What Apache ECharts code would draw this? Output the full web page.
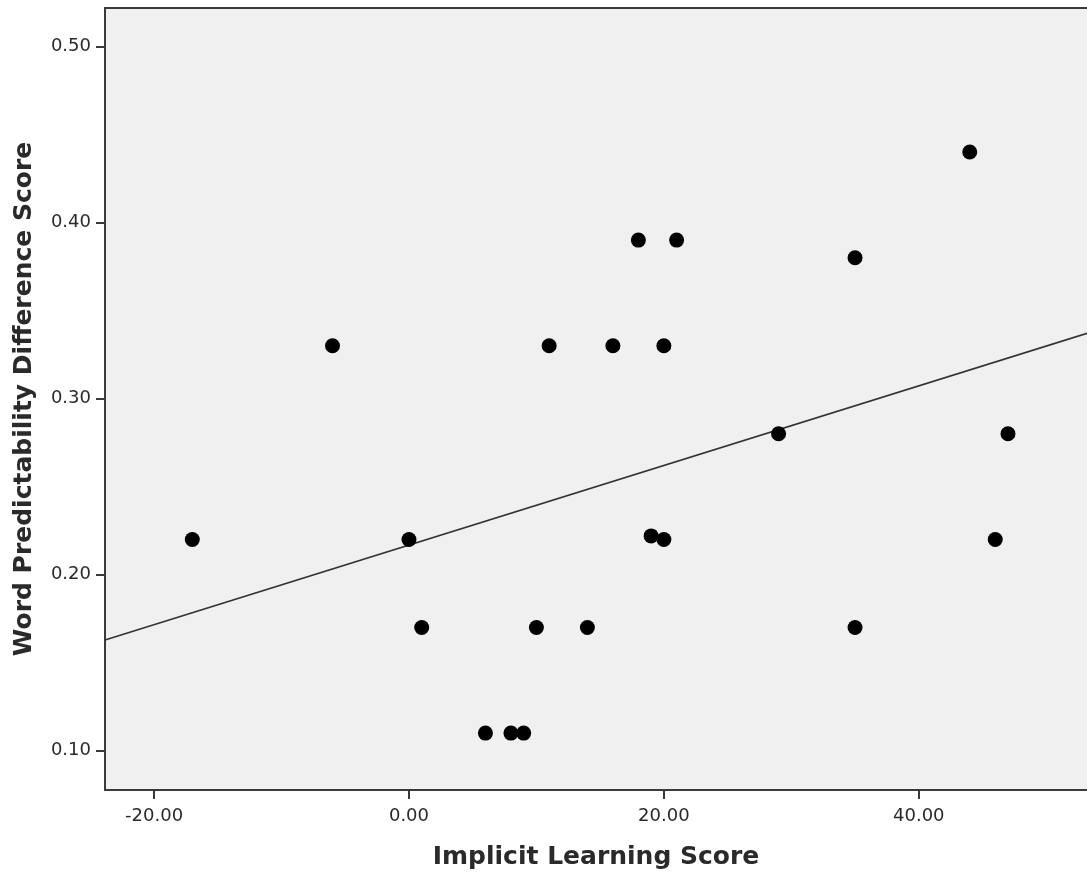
<!DOCTYPE html>
<html>
<head>
<meta charset="utf-8">
<script src="https://cdn.jsdelivr.net/npm/echarts@6/dist/echarts.min.js"></script>
<style>
html,body{margin:0;padding:0;background:#fff;}
#chart{width:1087px;height:872px;}
</style>
</head>
<body>
<div id="chart"></div>
<script>
// Data
const implicitScores = [-17, -6, 0, 1, 6, 8, 9, 10, 11, 14, 16, 18, 19, 20, 20, 21, 29, 35, 35, 44, 46, 47];
const predictabilityDiff = [0.22, 0.33, 0.22, 0.17, 0.11, 0.11, 0.11, 0.17, 0.33, 0.17, 0.33, 0.39, 0.222, 0.22, 0.33, 0.39, 0.28, 0.38, 0.17, 0.44, 0.22, 0.28];
const xTicks = [-20, 0, 20, 40];
const yTicks = [0.1, 0.2, 0.3, 0.4, 0.5];
const fitIntercept = 0.2168;
const fitSlope = 0.00226;
const xTitle = 'Implicit Learning Score';
const yTitle = 'Word Predictability Difference Score';

const xMin = -23.85, xMax = 53.2;
const yMin = 0.0777, yMax = 0.5218;

const points = implicitScores.map((x, i) => [x, predictabilityDiff[i]]);
const fitLine = [[xMin, fitIntercept + fitSlope * xMin], [xMax, fitIntercept + fitSlope * xMax]];

const axisColor = '#3a3a3a';
const labelFont = { fontFamily: 'DejaVu Sans', fontSize: 18, color: '#2a2a2a' };
const titleFont = { fontFamily: 'DejaVu Sans', fontSize: 25, fontWeight: 'bold', color: '#2a2a2a' };

const chart = echarts.init(document.getElementById('chart'), null, { renderer: 'canvas' });
chart.setOption({
  animation: false,
  backgroundColor: '#ffffff',
  grid: {
    left: 105, top: 8, right: 0, bottom: 82,
    show: true, backgroundColor: '#f0f0f0',
    borderWidth: 0,
    containLabel: false,
    outerBoundsMode: 'none'
  },
  xAxis: [{
    type: 'value', min: xMin, max: xMax, position: 'bottom',
    name: xTitle, nameLocation: 'middle', nameGap: 55,
    nameTextStyle: titleFont,
    axisLine: { show: true, onZero: false, lineStyle: { color: axisColor, width: 2 } },
    axisTick: { show: true, length: 9, customValues: xTicks, lineStyle: { color: axisColor, width: 2 } },
    axisLabel: { show: true, customValues: xTicks, margin: 17, formatter: v => v.toFixed(2), ...labelFont },
    splitLine: { show: false }
  }, {
    type: 'value', min: xMin, max: xMax, position: 'top',
    axisLine: { show: true, onZero: false, lineStyle: { color: axisColor, width: 2 } },
    axisTick: { show: false }, axisLabel: { show: false }, splitLine: { show: false }
  }],
  yAxis: {
    type: 'value', min: yMin, max: yMax,
    name: yTitle, nameLocation: 'middle', nameGap: 68, nameRotate: 90,
    nameTextStyle: titleFont,
    axisLine: { show: true, onZero: false, lineStyle: { color: axisColor, width: 2 } },
    axisTick: { show: true, length: 9, customValues: yTicks, lineStyle: { color: axisColor, width: 2 } },
    axisLabel: { show: true, customValues: yTicks, margin: 14, formatter: v => v.toFixed(2), ...labelFont },
    splitLine: { show: false }
  },
  series: [
    {
      type: 'line', data: fitLine, symbol: 'none', silent: true,
      lineStyle: { color: '#333', width: 1.6 }, z: 2
    },
    {
      type: 'scatter', data: points, symbol: 'circle', symbolSize: 15,
      itemStyle: { color: '#000', opacity: 1 }, z: 3
    }
  ]
});
</script>
</body>
</html>
